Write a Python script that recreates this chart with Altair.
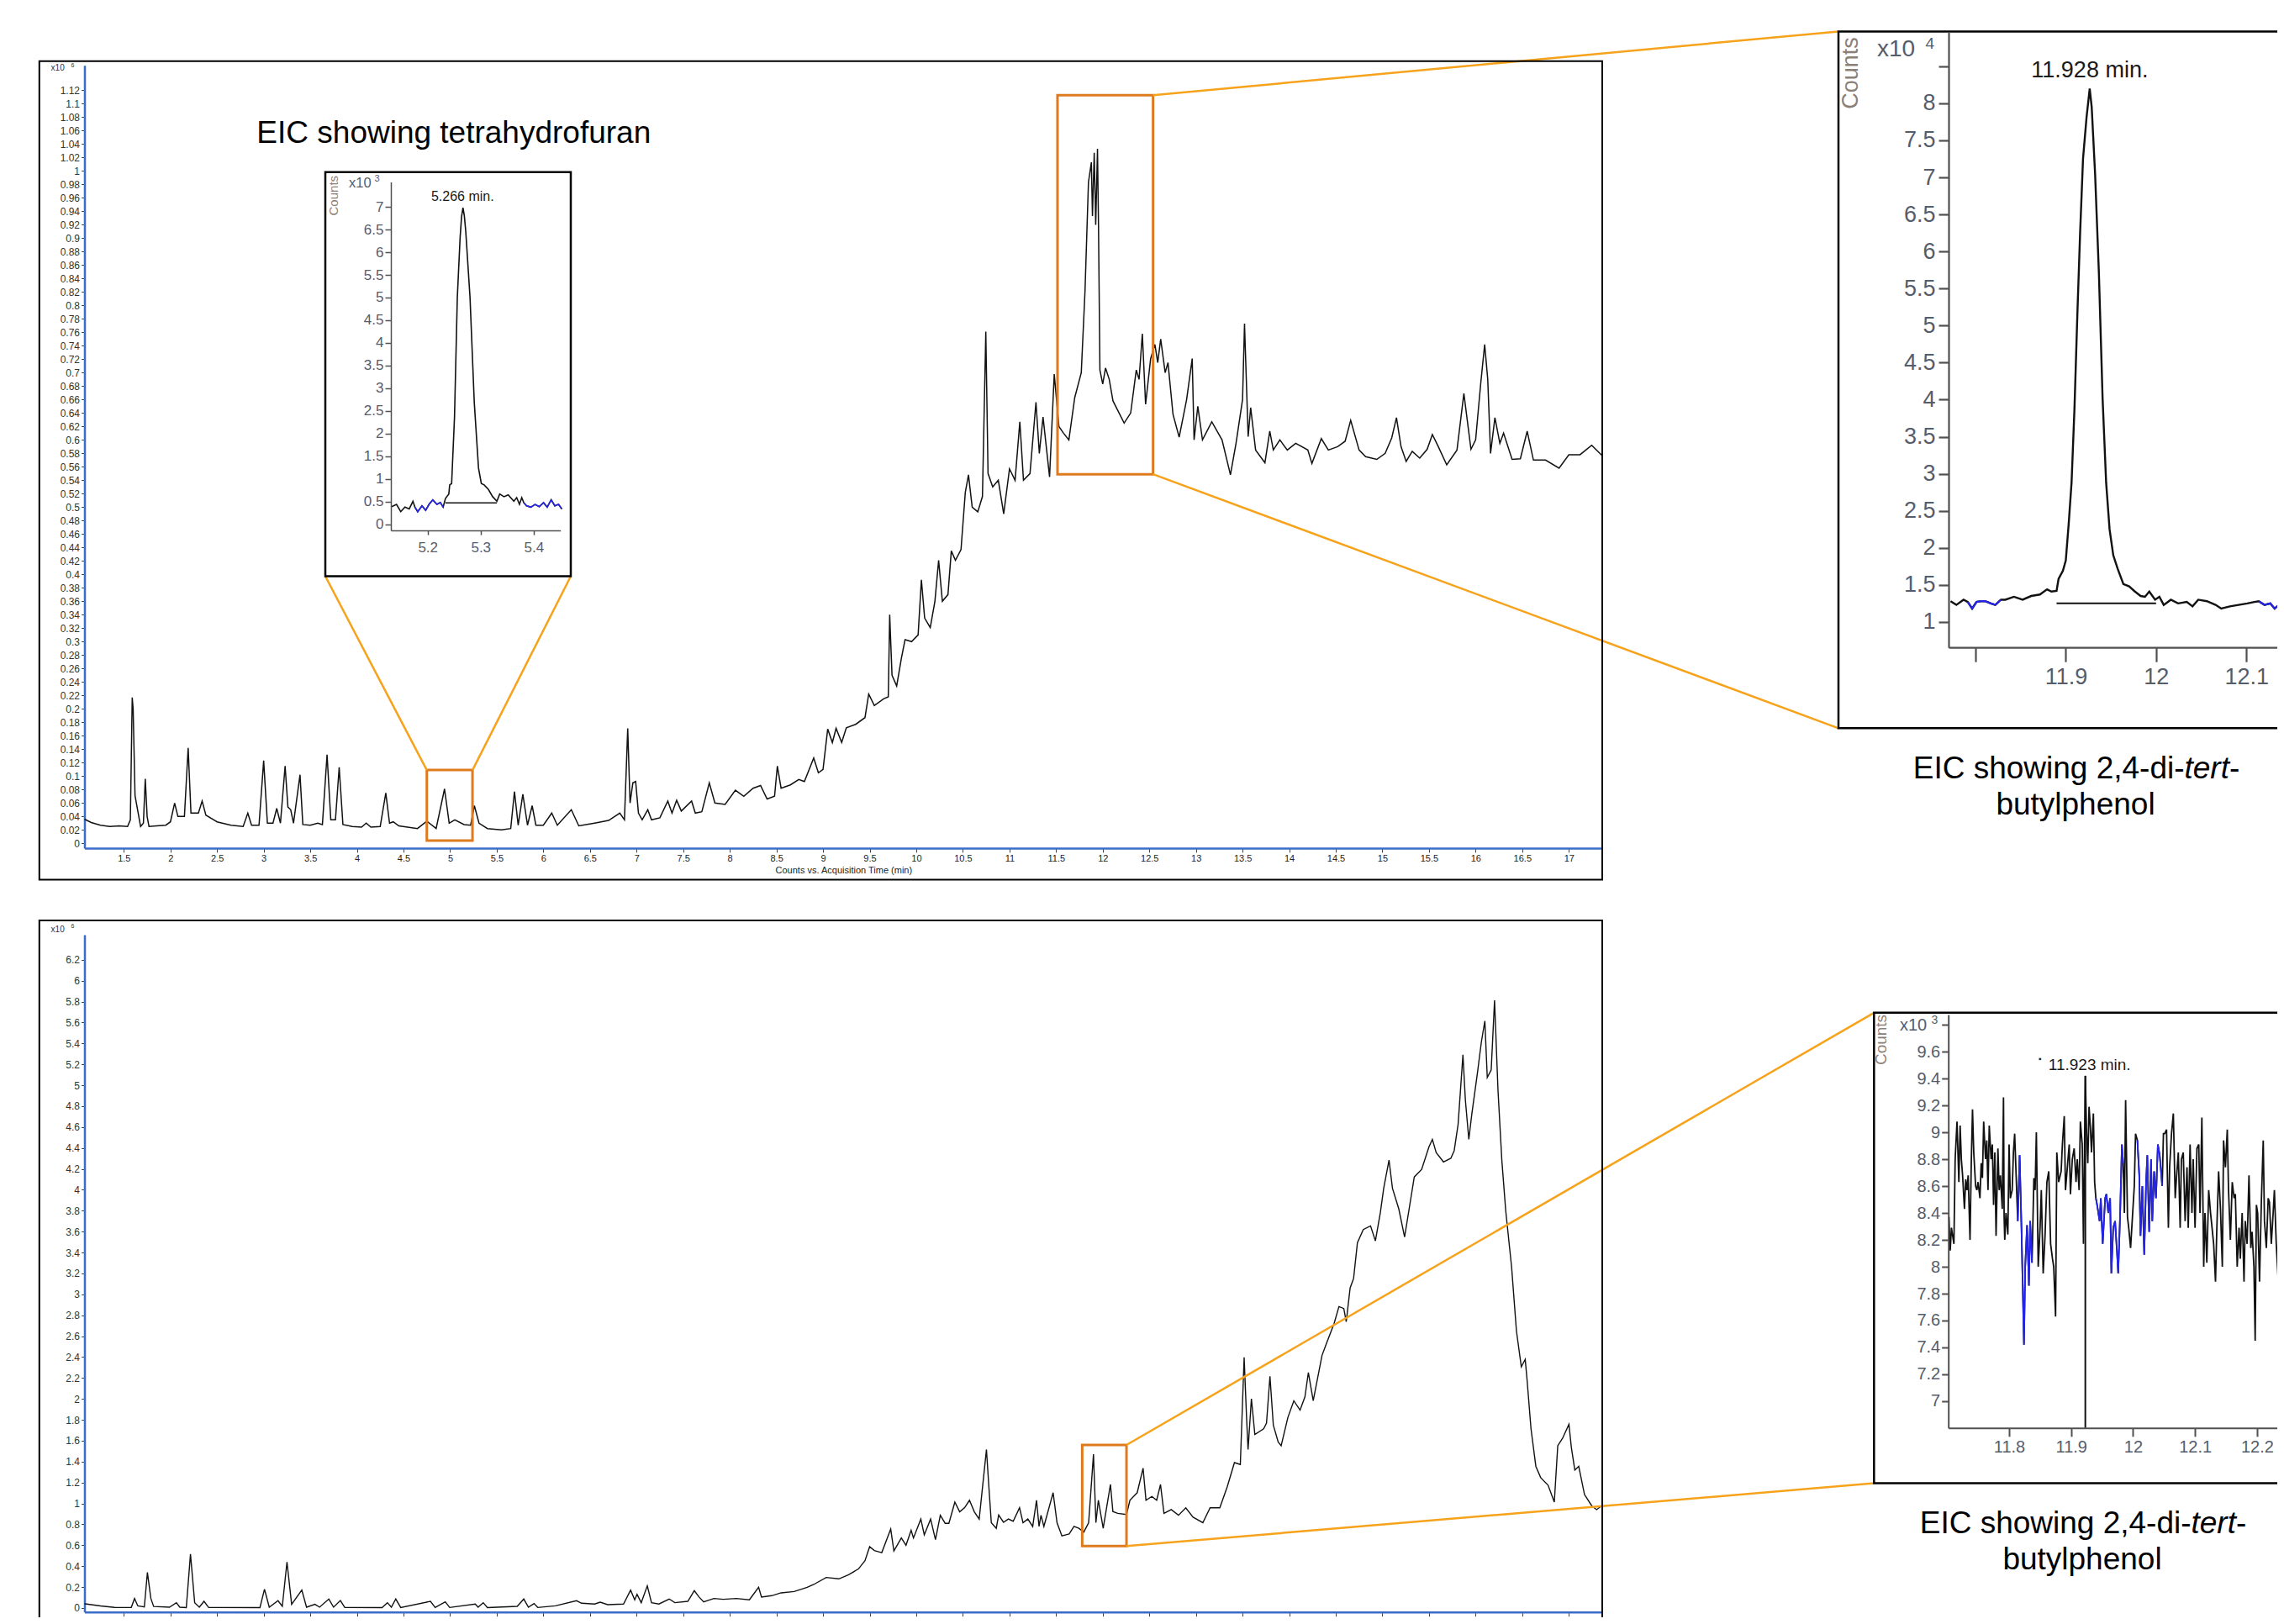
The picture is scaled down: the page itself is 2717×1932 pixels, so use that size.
import altair as alt
import pandas as pd

W, H, M = 2701, 1916, 8


def P(v):
    return round(v - M, 1)


FONT = "Liberation Sans, Arial, sans-serif"
NARROW = "Liberation Sans Narrow, Arial Narrow, Liberation Sans, sans-serif"
INK = "#111111"
AXBLUE = "#3a6cc9"
OR_BOX = "#df7b1f"
OR_LINE = "#f7a21b"
TBLUE = "#2424e8"
LBL = "#555d6b"
GRAYTXT = "#8a8078"

# ---------------- data ----------------
top_tic = [
    (1.078, 0.036), (1.15, 0.031), (1.25, 0.027), (1.35, 0.025), (1.45, 0.026), (1.54, 0.025), (1.57, 0.035),
    (1.59, 0.217), (1.60, 0.200), (1.62, 0.071), (1.65, 0.048), (1.68, 0.025), (1.71, 0.030), (1.73, 0.096),
    (1.75, 0.040), (1.77, 0.025), (1.85, 0.026), (1.95, 0.027), (2.00, 0.032), (2.045, 0.060), (2.08, 0.040),
    (2.15, 0.040), (2.19, 0.142), (2.22, 0.045), (2.30, 0.045), (2.34, 0.063), (2.38, 0.042), (2.50, 0.032),
    (2.65, 0.027), (2.78, 0.025), (2.83, 0.045), (2.87, 0.027), (2.95, 0.027), (3.00, 0.123), (3.04, 0.030),
    (3.10, 0.030), (3.14, 0.052), (3.18, 0.030), (3.23, 0.115), (3.26, 0.054), (3.29, 0.050), (3.32, 0.030),
    (3.39, 0.102), (3.42, 0.028), (3.50, 0.027), (3.58, 0.030), (3.63, 0.028), (3.68, 0.132), (3.72, 0.035),
    (3.77, 0.035), (3.81, 0.113), (3.85, 0.028), (3.95, 0.025), (4.05, 0.024), (4.10, 0.030), (4.15, 0.024),
    (4.25, 0.025), (4.31, 0.075), (4.35, 0.030), (4.39, 0.032), (4.45, 0.026), (4.65, 0.022), (4.75, 0.033),
    (4.85, 0.022), (4.94, 0.081), (4.99, 0.030), (5.05, 0.035), (5.15, 0.028), (5.22, 0.027), (5.26, 0.056),
    (5.31, 0.030), (5.40, 0.022), (5.55, 0.020), (5.65, 0.022), (5.69, 0.077), (5.73, 0.027), (5.78, 0.073),
    (5.83, 0.027), (5.88, 0.056), (5.92, 0.027), (6.00, 0.027), (6.09, 0.045), (6.15, 0.027), (6.30, 0.050),
    (6.38, 0.026), (6.55, 0.030), (6.70, 0.034), (6.82, 0.045), (6.87, 0.035), (6.905, 0.171), (6.93, 0.060),
    (6.96, 0.090), (6.99, 0.092), (7.02, 0.045), (7.06, 0.035), (7.12, 0.050), (7.16, 0.035), (7.25, 0.038),
    (7.335, 0.063), (7.38, 0.045), (7.43, 0.064), (7.48, 0.048), (7.59, 0.063), (7.63, 0.045), (7.70, 0.047),
    (7.78, 0.090), (7.84, 0.060), (7.95, 0.058), (8.06, 0.079), (8.15, 0.070), (8.25, 0.082), (8.33, 0.086),
    (8.40, 0.066), (8.48, 0.070), (8.51, 0.115), (8.55, 0.082), (8.65, 0.087), (8.74, 0.095), (8.80, 0.092),
    (8.90, 0.127), (8.95, 0.105), (9.00, 0.110), (9.05, 0.170), (9.10, 0.150), (9.14, 0.171), (9.20, 0.150),
    (9.25, 0.172), (9.35, 0.177), (9.45, 0.187), (9.49, 0.222), (9.55, 0.205), (9.65, 0.215), (9.70, 0.218),
    (9.715, 0.340), (9.74, 0.250), (9.79, 0.234), (9.84, 0.275), (9.88, 0.303), (9.95, 0.300), (10.02, 0.310),
    (10.055, 0.392), (10.09, 0.335), (10.15, 0.321), (10.20, 0.360), (10.24, 0.421), (10.28, 0.360),
    (10.34, 0.370), (10.376, 0.435), (10.42, 0.421), (10.48, 0.437), (10.526, 0.522), (10.56, 0.548),
    (10.60, 0.500), (10.66, 0.493), (10.71, 0.516), (10.746, 0.761), (10.77, 0.550), (10.82, 0.530),
    (10.88, 0.540), (10.938, 0.490), (11.00, 0.557), (11.06, 0.540), (11.111, 0.627), (11.15, 0.540),
    (11.22, 0.550), (11.284, 0.656), (11.32, 0.580), (11.36, 0.634), (11.43, 0.545), (11.48, 0.698),
    (11.53, 0.620), (11.58, 0.610), (11.637, 0.600), (11.70, 0.663), (11.77, 0.700), (11.81, 0.821),
    (11.847, 0.983), (11.878, 1.013), (11.89, 0.933), (11.909, 1.027), (11.925, 0.920), (11.944, 1.033),
    (11.955, 0.917), (11.970, 0.704), (12.00, 0.683), (12.03, 0.707), (12.07, 0.690), (12.11, 0.658),
    (12.23, 0.625), (12.30, 0.640), (12.36, 0.704), (12.39, 0.690), (12.425, 0.758), (12.46, 0.653),
    (12.514, 0.721), (12.56, 0.742), (12.59, 0.715), (12.622, 0.750), (12.67, 0.700), (12.70, 0.715),
    (12.754, 0.638), (12.82, 0.604), (12.90, 0.660), (12.96, 0.721), (12.98, 0.600), (13.02, 0.650),
    (13.07, 0.600), (13.17, 0.627), (13.28, 0.600), (13.37, 0.548), (13.43, 0.595), (13.50, 0.660),
    (13.521, 0.773), (13.56, 0.605), (13.587, 0.648), (13.64, 0.585), (13.74, 0.566), (13.792, 0.613),
    (13.83, 0.585), (13.90, 0.600), (13.98, 0.585), (14.07, 0.595), (14.20, 0.585), (14.244, 0.565),
    (14.345, 0.602), (14.42, 0.585), (14.52, 0.590), (14.60, 0.598), (14.66, 0.629), (14.75, 0.585),
    (14.82, 0.575), (14.94, 0.571), (15.03, 0.580), (15.10, 0.603), (15.151, 0.633), (15.20, 0.590),
    (15.255, 0.568), (15.32, 0.583), (15.40, 0.573), (15.48, 0.586), (15.536, 0.608), (15.60, 0.590),
    (15.69, 0.563), (15.80, 0.585), (15.874, 0.669), (15.95, 0.586), (16.00, 0.600), (16.054, 0.683),
    (16.097, 0.742), (16.13, 0.690), (16.16, 0.580), (16.207, 0.633), (16.26, 0.595), (16.30, 0.610),
    (16.391, 0.571), (16.48, 0.572), (16.553, 0.613), (16.62, 0.570), (16.75, 0.570), (16.895, 0.558),
    (17.00, 0.578), (17.12, 0.578), (17.245, 0.592), (17.355, 0.577),
]

bottom_tic = [
    (1.078, 0.040), (1.10, 0.038), (1.25, 0.020), (1.40, 0.006), (1.58, 0.005), (1.615, 0.091), (1.65, 0.020),
    (1.72, 0.010), (1.753, 0.340), (1.79, 0.091), (1.82, 0.015), (1.99, 0.008), (2.064, 0.051), (2.10, 0.008),
    (2.17, 0.004), (2.215, 0.515), (2.26, 0.051), (2.31, 0.008), (2.36, 0.064), (2.41, 0.005), (2.96, 0.004),
    (3.009, 0.180), (3.06, 0.008), (3.154, 0.070), (3.20, 0.016), (3.250, 0.440), (3.30, 0.035), (3.409, 0.172),
    (3.46, 0.008), (3.55, 0.035), (3.60, 0.008), (3.699, 0.086), (3.75, 0.008), (3.823, 0.072), (3.87, 0.005),
    (4.27, 0.004), (4.327, 0.051), (4.37, 0.008), (4.417, 0.086), (4.47, 0.005), (4.789, 0.064), (4.84, 0.005),
    (4.948, 0.059), (4.995, 0.005), (5.27, 0.038), (5.30, 0.008), (5.355, 0.051), (5.40, 0.004), (5.72, 0.016),
    (5.790, 0.086), (5.84, 0.008), (5.90, 0.043), (5.94, 0.005), (6.13, 0.021), (6.356, 0.070), (6.41, 0.046),
    (6.55, 0.038), (6.61, 0.056), (6.69, 0.032), (6.86, 0.038), (6.936, 0.171), (6.98, 0.078), (7.005, 0.131),
    (7.05, 0.051), (7.115, 0.212), (7.16, 0.051), (7.24, 0.038), (7.350, 0.086), (7.41, 0.051), (7.55, 0.064),
    (7.619, 0.166), (7.67, 0.105), (7.72, 0.059), (7.83, 0.091), (7.93, 0.083), (8.07, 0.091), (8.21, 0.078),
    (8.309, 0.198), (8.34, 0.105), (8.45, 0.118), (8.550, 0.145), (8.69, 0.158), (8.83, 0.198), (8.90, 0.225),
    (9.034, 0.292), (9.17, 0.279), (9.275, 0.319), (9.379, 0.373), (9.45, 0.453), (9.50, 0.587), (9.55, 0.550),
    (9.59, 0.540), (9.63, 0.530), (9.726, 0.755), (9.76, 0.546), (9.84, 0.670), (9.89, 0.600), (9.945, 0.743),
    (9.97, 0.670), (10.049, 0.851), (10.086, 0.700), (10.154, 0.851), (10.206, 0.654), (10.258, 0.887),
    (10.31, 0.810), (10.35, 0.810), (10.414, 1.013), (10.466, 0.920), (10.519, 0.960), (10.571, 1.031),
    (10.623, 0.920), (10.675, 0.850), (10.753, 1.516), (10.779, 1.157), (10.805, 0.816), (10.858, 0.762),
    (10.884, 0.890), (10.936, 0.820), (10.988, 0.851), (11.04, 0.830), (11.108, 0.959), (11.145, 0.816),
    (11.197, 0.851), (11.249, 0.780), (11.290, 1.031), (11.317, 0.780), (11.338, 0.887), (11.369, 0.780),
    (11.468, 1.103), (11.510, 0.816), (11.562, 0.690), (11.640, 0.708), (11.692, 0.780), (11.744, 0.762),
    (11.797, 0.726), (11.849, 0.816), (11.901, 1.470), (11.927, 0.816), (11.953, 1.031), (12.005, 0.762),
    (12.083, 1.182), (12.109, 0.923), (12.161, 0.905), (12.255, 0.894), (12.292, 1.031), (12.370, 1.103),
    (12.433, 1.337), (12.464, 1.031), (12.527, 1.067), (12.579, 1.031), (12.620, 1.182), (12.657, 0.905),
    (12.735, 0.941), (12.813, 0.887), (12.891, 0.959), (12.969, 0.869), (13.074, 0.816), (13.152, 0.959),
    (13.256, 0.959), (13.335, 1.157), (13.413, 1.391), (13.476, 1.373), (13.517, 2.397), (13.543, 1.822),
    (13.559, 1.516), (13.595, 2.002), (13.632, 1.660), (13.726, 1.714), (13.757, 1.768), (13.794, 2.217),
    (13.830, 1.750), (13.882, 1.588), (13.914, 1.552), (13.986, 1.822), (14.050, 1.982), (14.117, 1.893),
    (14.169, 2.020), (14.206, 2.253), (14.258, 1.982), (14.352, 2.415), (14.404, 2.541), (14.482, 2.721),
    (14.534, 2.883), (14.586, 2.865), (14.612, 2.739), (14.654, 3.062), (14.691, 3.152), (14.732, 3.494),
    (14.795, 3.620), (14.873, 3.655), (14.925, 3.512), (14.978, 3.781), (15.014, 4.015), (15.071, 4.284),
    (15.108, 4.015), (15.176, 3.817), (15.238, 3.548), (15.290, 3.835), (15.342, 4.123), (15.421, 4.195),
    (15.499, 4.410), (15.536, 4.482), (15.577, 4.356), (15.655, 4.267), (15.734, 4.302), (15.770, 4.374),
    (15.812, 4.626), (15.864, 5.291), (15.890, 4.860), (15.927, 4.482), (15.958, 4.716), (16.021, 5.129),
    (16.062, 5.417), (16.099, 5.615), (16.125, 5.075), (16.167, 5.147), (16.203, 5.812), (16.240, 4.950),
    (16.281, 4.284), (16.323, 3.799), (16.386, 3.260), (16.438, 2.649), (16.490, 2.307), (16.532, 2.379),
    (16.552, 2.181), (16.594, 1.714), (16.646, 1.355), (16.698, 1.247), (16.777, 1.175), (16.844, 1.013),
    (16.881, 1.552), (16.933, 1.624), (17.001, 1.757), (17.027, 1.535), (17.064, 1.319), (17.106, 1.355),
    (17.168, 1.085), (17.246, 0.977), (17.298, 0.941), (17.350, 0.977),
]

# EIC tetrahydrofuran (x10^3 counts)
thf_eic = [
    (5.1323, 0.39), (5.1413, 0.44), (5.1493, 0.28), (5.1573, 0.38), (5.1653, 0.34), (5.1723, 0.51),
    (5.1760, 0.38), (5.1813, 0.28), (5.1893, 0.41), (5.1963, 0.31), (5.2027, 0.44), (5.2096, 0.54),
    (5.2176, 0.44), (5.2240, 0.48), (5.2293, 0.38), (5.2336, 0.57), (5.2400, 0.67), (5.2416, 0.87),
    (5.2453, 0.90), (5.2507, 2.36), (5.2560, 5.00), (5.2613, 6.32), (5.2640, 6.78), (5.2667, 6.98),
    (5.2693, 6.80), (5.2720, 6.45), (5.2800, 5.00), (5.2880, 2.69), (5.2960, 1.24), (5.3013, 0.90),
    (5.3067, 0.87), (5.3147, 0.77), (5.3227, 0.61), (5.3307, 0.51), (5.3360, 0.67), (5.3440, 0.61),
    (5.3520, 0.65), (5.3627, 0.51), (5.3680, 0.59), (5.3733, 0.44), (5.3776, 0.59), (5.3813, 0.48),
    (5.3867, 0.41), (5.3947, 0.38), (5.4027, 0.44), (5.4107, 0.39), (5.4187, 0.48), (5.4256, 0.38),
    (5.4331, 0.54), (5.4400, 0.41), (5.4469, 0.44), (5.4533, 0.34),
]
thf_blue = [(5.1760, 5.2293), (5.3813, 5.4533)]
thf_base = [(5.2336, 5.3307, 0.475)]
thf_peak = [(5.266, 7.22, "5.266 min.")]

# EIC 2,4-di-tert-butylphenol, sample 1 (x10^4 counts)
tbp1_eic = [
    (11.7724, 1.28), (11.7788, 1.23), (11.7868, 1.30), (11.7915, 1.27), (11.7963, 1.18), (11.8011, 1.27),
    (11.8059, 1.28), (11.8107, 1.28), (11.8171, 1.25), (11.8219, 1.23), (11.8282, 1.30), (11.8330, 1.30),
    (11.8426, 1.34), (11.8522, 1.30), (11.8617, 1.35), (11.8713, 1.37), (11.8793, 1.44), (11.8841, 1.41),
    (11.8898, 1.42), (11.8920, 1.58), (11.8968, 1.69), (11.9000, 1.83), (11.9032, 2.32), (11.9064, 2.88),
    (11.9096, 3.87), (11.9128, 5.14), (11.9159, 6.26), (11.9191, 7.25), (11.9230, 7.81), (11.9265, 8.20),
    (11.9287, 7.95), (11.9325, 7.04), (11.9367, 5.70), (11.9408, 4.01), (11.9447, 2.88), (11.9485, 2.25),
    (11.9526, 1.90), (11.9574, 1.72), (11.9638, 1.51), (11.9702, 1.48), (11.9766, 1.41), (11.9829, 1.35),
    (11.9877, 1.34), (11.9925, 1.41), (11.9989, 1.30), (12.0037, 1.34), (12.0085, 1.23), (12.0164, 1.30),
    (12.0244, 1.25), (12.0340, 1.27), (12.0404, 1.21), (12.0467, 1.30), (12.0563, 1.28), (12.0659, 1.23),
    (12.0722, 1.18), (12.0818, 1.21), (12.0914, 1.23), (12.1010, 1.25), (12.1089, 1.27), (12.1137, 1.28),
    (12.1201, 1.23), (12.1265, 1.25), (12.1313, 1.18), (12.1360, 1.23), (12.1418, 1.27),
]
tbp1_blue = [(11.7915, 11.8282), (12.1137, 12.1418)]
tbp1_base = [(11.8898, 12.0, 1.25)]
tbp1_peak = [(11.9265, 8.44, "11.928 min.")]

# EIC 2,4-di-tert-butylphenol, sample 2 (x10^3 counts)
tbp2_eic = [
    (11.703, 8.37), (11.705, 8.12), (11.707, 8.29), (11.711, 8.17), (11.713, 8.80), (11.716, 9.08),
    (11.719, 8.63), (11.721, 9.05), (11.723, 8.80), (11.725, 8.68), (11.728, 8.43), (11.730, 8.65),
    (11.732, 8.57), (11.734, 8.68), (11.737, 8.20), (11.739, 8.77), (11.741, 9.17), (11.743, 8.85),
    (11.746, 8.60), (11.748, 8.57), (11.750, 8.63), (11.753, 8.51), (11.755, 8.77), (11.757, 8.66),
    (11.759, 9.08), (11.762, 8.80), (11.764, 8.94), (11.766, 8.57), (11.768, 9.05), (11.771, 8.80),
    (11.773, 8.91), (11.775, 8.46), (11.777, 8.85), (11.779, 8.23), (11.782, 8.88), (11.784, 8.57),
    (11.786, 8.68), (11.789, 8.43), (11.791, 9.26), (11.792, 8.37), (11.793, 8.20), (11.795, 8.40),
    (11.798, 8.24), (11.800, 8.91), (11.802, 8.51), (11.805, 8.57), (11.807, 8.85), (11.809, 8.99),
    (11.814, 8.34), (11.817, 8.83), (11.820, 8.29), (11.824, 7.42), (11.826, 8.00), (11.829, 8.31),
    (11.832, 7.86), (11.834, 8.34), (11.837, 8.03), (11.840, 8.66), (11.842, 8.57), (11.844, 9.00),
    (11.847, 8.00), (11.850, 8.29), (11.852, 8.57), (11.855, 7.95), (11.858, 8.23), (11.861, 8.63),
    (11.864, 8.71), (11.867, 8.17), (11.870, 8.06), (11.872, 8.00), (11.875, 7.63), (11.877, 8.85),
    (11.880, 8.63), (11.884, 8.71), (11.886, 8.91), (11.889, 9.12), (11.891, 8.57), (11.894, 8.74),
    (11.897, 8.91), (11.899, 8.54), (11.902, 8.80), (11.905, 8.88), (11.908, 8.63), (11.910, 8.80),
    (11.913, 8.57), (11.915, 9.08), (11.918, 8.91), (11.920, 8.17), (11.923, 9.42), (11.925, 9.00),
    (11.927, 8.77), (11.929, 9.19), (11.931, 9.05), (11.933, 8.85), (11.936, 9.14), (11.938, 8.63),
    (11.940, 8.51), (11.942, 8.46), (11.946, 8.34), (11.948, 8.51), (11.951, 8.17), (11.955, 8.51),
    (11.957, 8.54), (11.960, 8.40), (11.963, 8.51), (11.965, 7.95), (11.968, 8.29), (11.971, 8.34),
    (11.974, 8.12), (11.976, 7.95), (11.979, 8.37), (11.982, 8.91), (11.984, 8.77), (11.986, 8.40),
    (11.988, 9.24), (11.991, 8.37), (11.993, 8.29), (11.996, 8.14), (11.999, 8.37), (12.002, 8.60),
    (12.004, 8.99), (12.007, 8.94), (12.010, 8.68), (12.012, 8.23), (12.015, 8.60), (12.018, 8.09),
    (12.021, 8.63), (12.023, 8.83), (12.026, 8.26), (12.029, 8.80), (12.031, 8.34), (12.034, 8.71),
    (12.037, 8.51), (12.040, 8.91), (12.043, 8.83), (12.047, 8.60), (12.049, 8.99), (12.051, 8.99),
    (12.054, 9.02), (12.057, 8.29), (12.059, 8.74), (12.062, 8.99), (12.065, 9.14), (12.068, 8.51),
    (12.070, 8.66), (12.073, 8.85), (12.076, 8.29), (12.078, 8.80), (12.081, 8.85), (12.084, 8.34),
    (12.087, 8.74), (12.089, 8.29), (12.092, 8.91), (12.095, 8.40), (12.097, 8.80), (12.100, 8.29),
    (12.103, 8.88), (12.106, 8.91), (12.108, 8.40), (12.111, 9.11), (12.114, 8.00), (12.116, 8.40),
    (12.119, 8.03), (12.122, 8.57), (12.125, 8.40), (12.127, 8.31), (12.130, 8.17), (12.133, 7.89),
    (12.135, 8.26), (12.138, 8.71), (12.141, 8.43), (12.144, 8.00), (12.146, 8.94), (12.149, 8.74),
    (12.152, 9.02), (12.154, 8.57), (12.157, 8.20), (12.160, 8.63), (12.163, 8.51), (12.165, 8.54),
    (12.168, 8.00), (12.171, 8.29), (12.173, 8.06), (12.176, 8.40), (12.179, 7.89), (12.181, 8.34),
    (12.184, 8.17), (12.187, 8.68), (12.190, 8.14), (12.192, 8.26), (12.195, 8.00), (12.197, 7.45),
    (12.199, 8.46), (12.201, 8.40), (12.204, 7.89), (12.207, 8.49), (12.210, 8.94), (12.212, 8.34),
    (12.215, 8.14), (12.218, 8.51), (12.220, 8.48), (12.223, 8.17), (12.226, 8.40), (12.228, 8.57),
    (12.231, 8.17), (12.234, 7.92),
]
tbp2_blue = [(11.814, 11.837), (11.940, 11.984), (12.007, 12.047)]
tbp2_mark = [(11.923, 9.42, 6.801)]
tbp2_peak = [(11.9298, 9.50, "11.923 min.")]

# zoom boxes in the main chromatograms (time range, count range)
top_zoom_boxes = [(4.75, 5.24, 0.004, 0.109), (11.515, 12.54, 0.549, 1.1126)]
bottom_zoom_boxes = [(11.78, 12.255, 0.593, 1.56)]

# tick values
top_x_ticks = [1.5 + 0.5 * i for i in range(32)]
top_y_ticks = [round(0.02 * i, 2) for i in range(57)]
bot_y_ticks = [round(0.2 * i, 1) for i in range(32)]
thf_x_ticks = [5.2, 5.3, 5.4]
thf_y_ticks = [0.5 * i for i in range(15)]
tbp1_x_ticks = [11.8, 11.9, 12.0, 12.1]
tbp1_y_ticks = [1 + 0.5 * i for i in range(16)]
tbp2_x_ticks = [11.8, 11.9, 12.0, 12.1, 12.2]
tbp2_y_ticks = [round(7 + 0.2 * i, 1) for i in range(15)]


def df_pts(pts):
    return pd.DataFrame(pts, columns=["t", "v"])


def blue_df(pts, ranges):
    rows = []
    for k, (a, b) in enumerate(ranges):
        for t, v in pts:
            if a - 1e-9 <= t <= b + 1e-9:
                rows.append({"t": t, "v": v, "seg": k})
    return pd.DataFrame(rows)


def sc(domain, rng):
    return alt.Scale(domain=domain, range=rng, nice=False, zero=False)


def main_axes(x_off_y, y_ticks, y_fmt, xtitle):
    xa = alt.Axis(orient="bottom", offset=P(x_off_y) - H, values=top_x_ticks, format=".1~f",
                  title=xtitle, grid=False, domainColor=AXBLUE, domainWidth=2.5, tickColor="#444444",
                  tickSize=5, labelFont=NARROW, labelFontSize=11, labelColor="#222222", labelPadding=2,
                  labelFlush=False, labelOverlap=False, titleFont=NARROW, titleFontSize=11,
                  titleFontWeight="normal", titleColor="#222222", titlePadding=3)
    ya = alt.Axis(orient="left", offset=-P(100.5), values=y_ticks, format=y_fmt, title="", grid=False,
                  domainColor=AXBLUE, domainWidth=2.5, tickColor="#444444", tickSize=4, labelFont=FONT,
                  labelFontSize=12, labelColor="#333333", labelPadding=2, labelOverlap=False,
                  labelFlush=False)
    return xa, ya


def inset_axes(ax_y, ax_x, xt, yt, fs, xtick, ytick, xpad, ypad, dw, xexpr=None, yexpr=None):
    xkw = dict(orient="bottom", offset=P(ax_y) - H, values=xt, format=".1~f", title="", grid=False,
               domainColor="#505050", domainWidth=dw, tickColor="#505050", tickWidth=dw, tickSize=xtick,
               labelFont=FONT, labelFontSize=fs, labelColor=LBL, labelPadding=xpad, labelFlush=False,
               labelOverlap=False, zindex=1)
    ykw = dict(orient="left", offset=-P(ax_x), values=yt, format=".1~f", title="", grid=False,
               domainColor="#505050", domainWidth=dw, tickColor="#505050", tickWidth=dw, tickSize=ytick,
               labelFont=FONT, labelFontSize=fs, labelColor=LBL, labelPadding=ypad, labelFlush=False,
               labelOverlap=False, zindex=1)
    if xexpr:
        xkw["labelExpr"] = xexpr
    if yexpr:
        ykw["labelExpr"] = yexpr
    return alt.Axis(**xkw), alt.Axis(**ykw)


def line(df, xs, ys, xa, ya, color, sw, detail=False):
    enc = dict(x=alt.X("t:Q", scale=xs, axis=xa), y=alt.Y("v:Q", scale=ys, axis=ya))
    if detail:
        enc["detail"] = "seg:N"
    return alt.Chart(df).mark_line(color=color, strokeWidth=sw).encode(**enc)


def boxes(bx, xs, ys, xa, ya):
    d = pd.DataFrame(bx, columns=["t0", "t1", "v0", "v1"])
    return alt.Chart(d).mark_rect(filled=False, fillOpacity=0, stroke=OR_BOX, strokeWidth=3).encode(
        x=alt.X("t0:Q", scale=xs, axis=xa), x2="t1:Q", y=alt.Y("v0:Q", scale=ys, axis=ya), y2="v1:Q")


def hbase(b, xs, ys, xa, ya, sw):
    d = pd.DataFrame(b, columns=["t0", "t1", "v"])
    return alt.Chart(d).mark_rule(color=INK, strokeWidth=sw).encode(
        x=alt.X("t0:Q", scale=xs, axis=xa), x2="t1:Q", y=alt.Y("v:Q", scale=ys, axis=ya))


def peak(pk, xs, ys, xa, ya, fs):
    d = pd.DataFrame(pk, columns=["t", "v", "s"])
    return alt.Chart(d).mark_text(font=FONT, fontSize=fs, color="#1a1a1a", align="center",
                                  baseline="middle").encode(
        x=alt.X("t:Q", scale=xs, axis=xa), y=alt.Y("v:Q", scale=ys, axis=ya), text="s:N")


ONE = pd.DataFrame({"k": [0]})


def T(s, x, y, size, align="center", color="#000000", angle=0, italic=False, font=FONT, baseline="middle"):
    kw = dict(text=s, align=align, baseline=baseline, fontSize=size, font=font, color=color)
    if angle:
        kw["angle"] = angle
    if italic:
        kw["fontStyle"] = "italic"
    return alt.Chart(ONE).mark_text(**kw).encode(x=alt.value(P(x)), y=alt.value(P(y)))


def L(x0, y0, x1, y1, color=OR_LINE, w=2.5):
    return alt.Chart(ONE).mark_rule(color=color, strokeWidth=w).encode(
        x=alt.value(P(x0)), y=alt.value(P(y0)), x2=alt.value(P(x1)), y2=alt.value(P(y1)))


def R(x0, y0, x1, y1, w=2):
    return alt.Chart(ONE).mark_rect(filled=False, fillOpacity=0, stroke="#000000", strokeWidth=w).encode(
        x=alt.value(P(x0)), x2=alt.value(P(x1)), y=alt.value(P(y0)), y2=alt.value(P(y1)))


# ---------------- top main chromatogram ----------------
txs = sc([1.078, 17.36], [P(100.5), P(1906.2)])
tys = sc([-0.007, 1.157], [P(1008.9), P(77.8)])
txa, tya = main_axes(1008.9, top_y_ticks, ".2~f", "Counts vs. Acquisition Time (min)")
top_panel = alt.layer(
    line(df_pts(top_tic), txs, tys, txa, tya, INK, 1.5),
    boxes(top_zoom_boxes, txs, tys, txa, tya),
)

# ---------------- bottom main chromatogram ----------------
bxs = sc([1.078, 17.36], [P(100.5), P(1906.2)])
bys = sc([-0.038, 6.44], [P(1917.7), P(1112)])
bxa, bya = main_axes(1917.7, bot_y_ticks, ".1~f", "")
bottom_panel = alt.layer(
    line(df_pts(bottom_tic), bxs, bys, bxa, bya, INK, 1.4),
    boxes(bottom_zoom_boxes, bxs, bys, bxa, bya),
)

# ---------------- THF inset ----------------
hxs = sc([5.1307, 5.4506], [P(465), P(666.7)])
hys = sc([-0.135, 7.546], [P(631.1), P(216.6)])
hxa, hya = inset_axes(631.1, 465, thf_x_ticks, thf_y_ticks, 17, 5, 7, 7, 2, 1.5)
thf_panel = alt.layer(
    line(df_pts(thf_eic), hxs, hys, hxa, hya, INK, 1.6),
    line(blue_df(thf_eic, thf_blue), hxs, hys, hxa, hya, TBLUE, 1.6, detail=True),
    hbase(thf_base, hxs, hys, hxa, hya, 1.5),
    peak(thf_peak, hxs, hys, hxa, hya, 16),
)

# ---------------- top-right inset ----------------
axs = sc([11.7702, 12.1417], [P(2318), P(2717)])
ays = sc([0.656, 8.97], [P(770.2), P(37.4)])
aya_expr = "datum.value > 8.25 ? '' : format(datum.value, '.1~f')"
axa_expr = "datum.value < 11.85 ? '' : format(datum.value, '.1~f')"
axa, aya = inset_axes(770.2, 2318, tbp1_x_ticks, tbp1_y_ticks, 27, 17, 12, 5, 4, 2.2, axa_expr, aya_expr)
tbp1_panel = alt.layer(
    line(df_pts(tbp1_eic), axs, ays, axa, aya, INK, 2.4),
    line(blue_df(tbp1_eic, tbp1_blue), axs, ays, axa, aya, TBLUE, 2.2, detail=True),
    hbase(tbp1_base, axs, ays, axa, aya, 2),
    peak(tbp1_peak, axs, ays, axa, aya, 27),
)

# ---------------- bottom-right inset ----------------
cxs = sc([11.702, 12.234], [P(2317.7), P(2710)])
cys = sc([6.801, 9.875], [P(1698.8), P(1207.1)])
cya_expr = "datum.value > 9.7 ? '' : format(datum.value, '.1~f')"
cxa, cya = inset_axes(1698.8, 2317.7, tbp2_x_ticks, tbp2_y_ticks, 20, 10, 8, 3, 2, 2, None, cya_expr)
mk = pd.DataFrame(tbp2_mark, columns=["t", "v0", "v1"])
tbp2_panel = alt.layer(
    line(df_pts(tbp2_eic), cxs, cys, cxa, cya, INK, 1.8),
    line(blue_df(tbp2_eic, tbp2_blue), cxs, cys, cxa, cya, TBLUE, 1.8, detail=True),
    alt.Chart(mk).mark_rule(color=INK, strokeWidth=2).encode(
        x=alt.X("t:Q", scale=cxs, axis=cxa), y=alt.Y("v0:Q", scale=cys, axis=cya), y2="v1:Q"),
    peak(tbp2_peak, cxs, cys, cxa, cya, 19),
)

# ---------------- frames, connectors, texts ----------------
frames = [
    R(46.8, 72.8, 1906, 1046.6, 2),
    R(46.8, 1095.1, 1906, 1960, 2),
    R(387, 204.7, 679, 685.5, 2.5),
    R(2187, 37.4, 2760, 866.3, 2.5),
    R(2229.3, 1204.8, 2711, 1764.6, 2.5),
]
connectors = [
    L(507.7, 916.1, 387, 685.5),
    L(562.1, 916.1, 679, 685.5),
    L(1371.6, 113.3, 2187, 37.4),
    L(1371.6, 564.2, 2187, 866.3),
    L(1340, 1719, 2229.3, 1204.8),
    L(1340, 1839.3, 2229.3, 1764.6),
]
texts = [
    T("EIC showing tetrahydrofuran", 539.8, 159.4, 37),
    T("EIC showing 2,4-di-", 2275.7, 914.7, 37, align="left"),
    T("tert", 2598.5, 914.7, 37, align="left", italic=True),
    T("-", 2652.0, 914.7, 37, align="left"),
    T("butylphenol", 2469, 958, 37),
    T("EIC showing 2,4-di-", 2283.7, 1813, 37, align="left"),
    T("tert", 2606.5, 1813, 37, align="left", italic=True),
    T("-", 2660.0, 1813, 37, align="left"),
    T("butylphenol", 2477, 1856.3, 37),
    # unit labels
    T("x10", 60.6, 81.4, 10, align="left", color="#333333"),
    T("6", 84.5, 78, 7, align="left", color="#333333"),
    T("x10", 60.6, 1105.5, 10, align="left", color="#333333"),
    T("6", 84.5, 1102, 7, align="left", color="#333333"),
    T("Counts", 397.3, 232.7, 15, color=GRAYTXT, angle=270, font=NARROW),
    T("x10", 415, 218.4, 16.5, align="left", color=LBL),
    T("3", 445.5, 213, 11, align="left", color=LBL),
    T("Counts", 2202.3, 87, 27, color=GRAYTXT, angle=270, font=NARROW),
    T("x10", 2233, 59.1, 28, align="left", color=LBL),
    T("4", 2290.5, 52, 19, align="left", color=LBL),
    T("Counts", 2238.3, 1237, 19, color=GRAYTXT, angle=270, font=NARROW),
    T("x10", 2260, 1219.8, 20, align="left", color=LBL),
    T("3", 2297.5, 1214, 14, align="left", color=LBL),
    T("\u25aa", 2426.7, 1260, 10, color="#222222"),
]

chart = alt.layer(
    top_panel, bottom_panel, *connectors, *frames, thf_panel, tbp1_panel, tbp2_panel, *texts
).resolve_scale(x="independent", y="independent").properties(
    width=W, height=H, autosize=alt.AutoSizeParams(type="none"), padding=0, background="white"
).configure_view(stroke=None)

chart.save("out.html", embed_options={"renderer": "svg", "actions": False})
